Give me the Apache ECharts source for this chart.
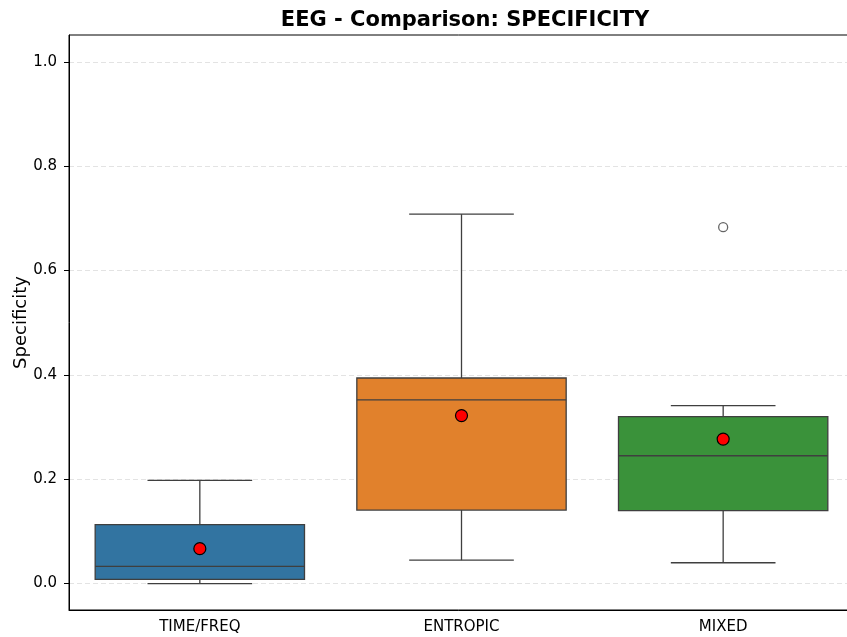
<!DOCTYPE html>
<html><head><meta charset="utf-8">
<script src="https://cdn.jsdelivr.net/npm/echarts@6/dist/echarts.min.js"></script>
<style>html,body{margin:0;padding:0;background:#fff;overflow:hidden}#c{width:847px;height:637px}</style>
</head><body><div id="c"></div>
<script>
const categories = ['TIME/FREQ', 'ENTROPIC', 'MIXED'];
// [low whisker, Q1, median, Q3, high whisker]
const boxStats = [
  [0.000, 0.008, 0.033, 0.113, 0.198],
  [0.045, 0.141, 0.352, 0.394, 0.708],
  [0.040, 0.140, 0.245, 0.320, 0.341]
];
const means = [0.067, 0.322, 0.277];
const outliers = [[2, 0.683]];
const yTicks = [0, 0.2, 0.4, 0.6, 0.8, 1.0];
const boxColors = ['#3274a1', '#e1812c', '#3a923a'];

const chart = echarts.init(document.getElementById('c'));
const edge = '#3f3f3f';
chart.setOption({
  animation: false,
  title: {
    text: 'EEG - Comparison: SPECIFICITY', left: 460, top: 5, textAlign: 'center',
    textStyle: {fontFamily: 'DejaVu Sans', fontWeight: 'bold', fontSize: 21, color: '#000'}
  },
  grid: {left: 69, right: -7, top: 35, bottom: 27, outerBoundsMode: 'none', containLabel: false,
    show: true, borderColor: '#000', borderWidth: 1},
  xAxis: {
    type: 'category', data: categories, boundaryGap: true,
    axisLine: {onZero: false, lineStyle: {color: '#000', width: 1}},
    axisTick: {alignWithLabel: true, length: 5, lineStyle: {color: '#000'}},
    axisLabel: {fontFamily: 'DejaVu Sans', fontSize: 15, color: '#000', margin: 10},
    splitLine: {show: false}
  },
  yAxis: {
    type: 'value', min: -0.0506, max: 1.0514,
    name: 'Specificity', nameLocation: 'middle', nameGap: 39, nameMoveOverlap: false,
    nameTextStyle: {fontFamily: 'DejaVu Sans', fontSize: 18, color: '#000'},
    axisLine: {show: true, lineStyle: {color: '#000', width: 1}},
    axisTick: {show: true, length: 5, customValues: yTicks, lineStyle: {color: '#000'}},
    axisLabel: {fontFamily: 'DejaVu Sans', fontSize: 15, color: '#000', margin: 12,
      customValues: yTicks, formatter: v => v.toFixed(1)},
    splitLine: {show: true, lineStyle: {color: '#e3e3e3', type: [5, 3], width: 1}}
  },
  series: [
    {
      type: 'custom',
      data: boxStats.map((s, i) => [i].concat(s)),
      renderItem: function (params, api) {
        const i = api.value(0);
        const x = api.coord([i, 0])[0];
        const bw = api.size([1, 0])[0];
        const half = bw * 0.4;
        const capHalf = bw * 0.2;
        const y = k => api.coord([i, api.value(k)])[1];
        const yLo = y(1), yQ1 = y(2), yMed = y(3), yQ3 = y(4), yHi = y(5);
        const ls = {stroke: edge, lineWidth: 1.3};
        return {
          type: 'group',
          children: [
            {type: 'line', shape: {x1: x, y1: yQ1, x2: x, y2: yLo}, style: ls},
            {type: 'line', shape: {x1: x, y1: yQ3, x2: x, y2: yHi}, style: ls},
            {type: 'line', shape: {x1: x - capHalf, y1: yLo, x2: x + capHalf, y2: yLo}, style: ls},
            {type: 'line', shape: {x1: x - capHalf, y1: yHi, x2: x + capHalf, y2: yHi}, style: ls},
            {type: 'rect', shape: {x: x - half, y: yQ3, width: 2 * half, height: yQ1 - yQ3},
              style: {fill: boxColors[i], stroke: edge, lineWidth: 1.3}},
            {type: 'line', shape: {x1: x - half, y1: yMed, x2: x + half, y2: yMed}, style: ls}
          ]
        };
      },
      z: 2
    },
    {
      type: 'scatter',
      data: outliers,
      symbol: 'circle', symbolSize: 9,
      itemStyle: {color: 'rgba(0,0,0,0)', borderColor: edge, borderWidth: 1.3},
      z: 3
    },
    {
      type: 'scatter',
      data: means.map((m, i) => [i, m]),
      symbol: 'circle', symbolSize: 12,
      itemStyle: {color: '#ff0000', borderColor: '#000', borderWidth: 1.2, opacity: 1},
      z: 4
    }
  ]
});
</script></body></html>
